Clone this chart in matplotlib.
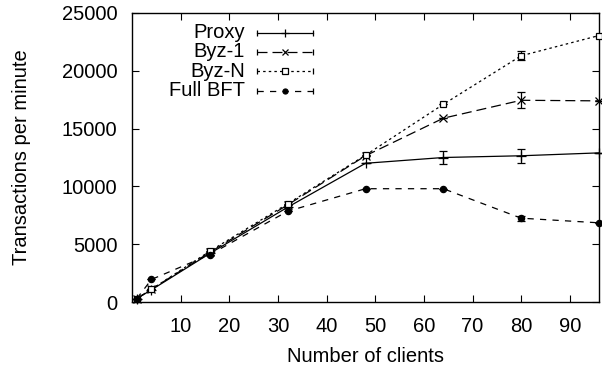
import matplotlib
matplotlib.use("Agg")
import matplotlib.pyplot as plt

plt.rcParams['font.family'] = ['Liberation Sans', 'DejaVu Sans']

clients = [1, 4, 16, 32, 48, 64, 80, 96]
proxy = [300, 1050, 4200, 8200, 12000, 12500, 12650, 12900]
proxy_err = [0, 0, 0, 0, 0, 550, 600, 0]
byz1 = [300, 1100, 4300, 8400, 12650, 15900, 17450, 17400]
byz1_err = [0, 0, 0, 0, 0, 0, 700, 0]
byzn = [300, 1100, 4400, 8500, 12700, 17100, 21300, 23050]
byzn_err = [0, 0, 0, 0, 0, 0, 400, 0]
fullbft = [300, 1950, 4100, 7850, 9800, 9800, 7250, 6850]
fullbft_err = [0, 0, 0, 0, 0, 0, 200, 0]

labels = ["Proxy", "Byz-1", "Byz-N", "Full BFT"]
xticks = [10, 20, 30, 40, 50, 60, 70, 80, 90]
yticks = [0, 5000, 10000, 15000, 20000, 25000]

FS = 14.5
W, H = 602, 367
L, R, T, B = 132, 599, 13, 302
fig = plt.figure(figsize=(W/100, H/100), dpi=100)
ax = fig.add_axes([L/W, 1-B/H, (R-L)/W, (B-T)/H])

def axx(px):
    return (px - L) / (R - L)

def axy(py):
    return (B - py) / (B - T)

series = [
    (proxy, proxy_err, '-', '+', 'black', 7),
    (byz1, byz1_err, (0, (8, 4)), 'x', 'black', 6),
    (byzn, byzn_err, (0, (2, 2.5)), 's', 'white', 5),
    (fullbft, fullbft_err, (0, (5, 5)), 'o', 'black', 4.5),
]
for (vals, err, ls, mk, mfc, ms), lab in zip(series, labels):
    ax.errorbar(clients, vals, yerr=err, linestyle=ls, marker=mk, color='black',
                mfc=mfc, mec='black', ms=ms, lw=0.9, capsize=3, elinewidth=0.9,
                markeredgewidth=0.9, clip_on=False, zorder=3)

# gnuplot-style legend: right-aligned text, sample to the right
rows_py = [32.7, 51.7, 71.2, 90.7]
for (vals, err, ls, mk, mfc, ms), lab, py in zip(series, labels, rows_py):
    y = axy(py)
    ax.text(axx(245), y, lab, transform=ax.transAxes, ha='right', va='center', fontsize=FS)
    ax.plot([axx(257), axx(313)], [y, y], transform=ax.transAxes, color='black',
            linestyle=ls, lw=0.9, clip_on=False)
    ax.plot([axx(257), axx(313)], [y, y], transform=ax.transAxes, color='black',
            linestyle='none', marker='|', ms=5, mew=0.9, clip_on=False)
    ax.plot([axx(285)], [y], transform=ax.transAxes, color='black', linestyle='none',
            marker=mk, mfc=mfc, mec='black', ms=ms*0.8, mew=0.9, clip_on=False)

ax.set_xlim(0, 96)
ax.set_ylim(0, 25000)
ax.set_xticks(xticks)
ax.set_yticks(yticks)
ax.tick_params(direction='in', top=True, right=True, labelsize=FS, length=5, width=0.8)
ax.tick_params(axis='x', pad=10.5)
ax.tick_params(axis='y', pad=10.5)
for s in ax.spines.values():
    s.set_linewidth(1.0)
ax.set_xlabel("Number of clients", fontsize=FS, va='center')
ax.set_ylabel("Transactions per minute", fontsize=FS, va='center')
ax.xaxis.set_label_coords(0.5, axy(357))
ax.yaxis.set_label_coords(axx(22), 0.5)

fig.savefig("out.png", dpi=100)
